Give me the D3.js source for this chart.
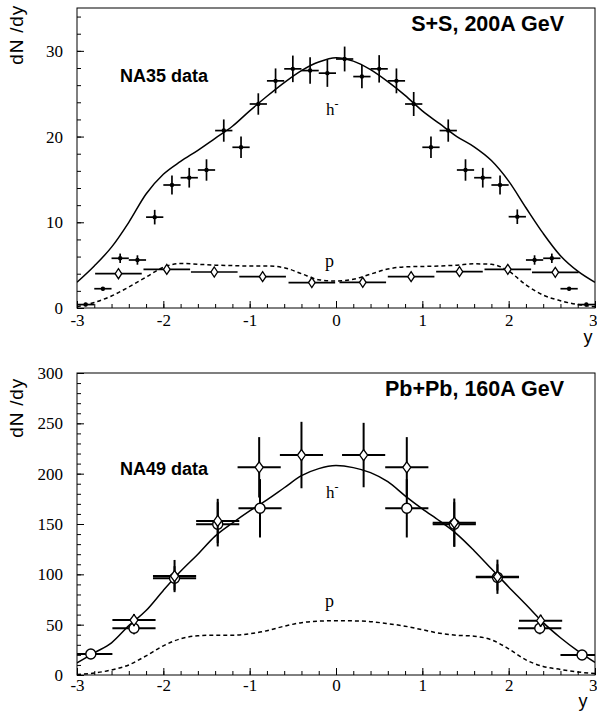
<!DOCTYPE html>
<head>
  <meta charset="utf-8">
  <title>dN/dy</title>
  <style>
  body { margin: 0; background: #fff; }
  .frame { fill: none; stroke: #000; stroke-width: 1; }
  .curve { fill: none; stroke: #000; stroke-width: 1.5; }
  .dashed { stroke-dasharray: 4,3; }
  .err { stroke: #000; }
  </style>
</head>
<body>
<svg id="vis" width="597" height="711"></svg>

<script src="https://cdn.jsdelivr.net/npm/d3@7"></script>
<script>
"use strict";

// rapidity grid for the model curves
var gridY = [-3, -2.8, -2.6, -2.4, -2.2, -2, -1.8, -1.6, -1.4, -1.2, -1, -0.8, -0.6, -0.4, -0.2, 0,
             0.2, 0.4, 0.6, 0.8, 1, 1.2, 1.4, 1.6, 1.8, 2, 2.2, 2.4, 2.6, 2.8, 3];
var xTicks = [-3, -2, -1, 0, 1, 2, 3];

// S+S panel
var ssYTicks = [0, 10, 20, 30];
var ssHmY = [-2.9, -2.7, -2.5, -2.3, -2.1, -1.9, -1.7, -1.5, -1.3, -1.1, -0.9, -0.7, -0.5, -0.3, -0.1,
             0.1, 0.3, 0.5, 0.7, 0.9, 1.1, 1.3, 1.5, 1.7, 1.9, 2.1, 2.3, 2.5, 2.7, 2.9];
var ssHmVal = [0.4, 2.25, 5.8, 5.6, 10.6, 14.35, 15.2, 16.1, 20.7, 18.75, 23.8, 26.5, 27.9, 27.7, 27.4,
               29.05, 27.0, 27.9, 26.5, 23.8, 18.75, 20.7, 16.1, 15.2, 14.35, 10.65, 5.6, 5.8, 2.25, 0.4];
var ssHmErr = [0.2, 0.2, 0.55, 0.55, 0.85, 1.1, 1.15, 1.25, 1.3, 1.25, 1.25, 1.45, 1.55, 1.55, 1.6,
               1.45, 1.35, 1.6, 1.45, 1.4, 1.25, 1.3, 1.25, 1.15, 1.1, 0.85, 0.55, 0.55, 0.2, 0.2];
var ssPY = [-2.52, -1.96, -1.41, -0.85, -0.28, 0.31, 0.87, 1.43, 1.99, 2.54];
var ssPVal = [4.0, 4.5, 4.2, 3.66, 2.97, 2.99, 3.66, 4.24, 4.51, 4.16];
var ssPErr = [0.35, 0.35, 0.35, 0.35, 0.35, 0.35, 0.35, 0.35, 0.35, 0.35];
var ssHmCurve = [3.0, 4.9, 7.1, 10.0, 13.3, 15.6, 17.1, 18.4, 19.8, 21.2, 23.0, 24.7, 26.3, 27.7, 28.7, 29.2,
                 28.8, 27.8, 26.4, 24.8, 23.0, 21.5, 20.0, 18.8, 17.2, 14.8, 11.7, 8.7, 6.1, 4.3, 3.0];
var ssPCurve = [0.15, 0.65, 1.4, 2.45, 3.6, 4.75, 5.2, 5.1, 5.0, 4.95, 4.9, 4.9, 4.7, 4.0, 3.3, 3.15,
                3.35, 3.95, 4.55, 4.8, 4.85, 4.9, 5.0, 5.15, 5.1, 4.3, 2.7, 1.5, 0.85, 0.4, 0.15];

// Pb+Pb panel
var pbYTicks = [0, 50, 100, 150, 200, 250, 300];
var pbCircY = [-2.84, -2.34, -1.87, -1.37, -0.88, 0.82, 1.37, 1.87, 2.36, 2.85];
var pbCircVal = [20.8, 46.4, 96.1, 149.7, 165.6, 165.6, 149.7, 97.0, 46.4, 19.9];
var pbCircErr = [5, 6, 12, 22, 29, 29, 22, 13, 6, 4];
var pbDiaY = [-2.34, -1.87, -1.37, -0.89, -0.40, 0.32, 0.82, 1.37, 1.87, 2.37];
var pbDiaVal = [54.6, 98.3, 153, 206.3, 218.5, 218.5, 206.3, 151.3, 97.6, 53.9];
var pbDiaErr = [6, 16, 22, 30, 33, 32, 30, 24, 17, 6];
var pbHmCurve = [12, 22, 32, 49, 64, 84, 103, 120, 138, 151, 163, 174, 186, 198, 205, 208,
                 206, 201, 192, 178, 165, 153, 140, 123.5, 105.5, 87.5, 70, 52, 37, 24, 12.5];
var pbPCurve = [0.5, 2, 5, 10, 19, 29, 36, 39, 39.5, 39.5, 41, 44, 48.5, 52, 53.5, 54,
                53.8, 53, 51, 48.5, 45, 41.5, 39.5, 38.5, 35, 26, 15, 8.5, 5.5, 3, 1.5];

var svg = d3.select("#vis");
var left = 77, right = 595;
var serif = "'Liberation Serif', 'Times New Roman', serif";
var sans = "'Liberation Sans', Arial, sans-serif";

function styleLabels(sel) {
  sel.selectAll("text")
      .style("font-family", serif)
      .style("font-size", "17px")
      .style("fill", "#000");
}

function drawPanel(p) {
  var x = d3.scaleLinear().domain([-3, 3]).range([left, right]);
  var y = d3.scaleLinear().domain([0, p.ymax]).range([p.bottom, p.top]);
  var g = svg.append("g");

  g.append("clipPath").attr("id", p.id + "clip")
    .append("rect")
      .attr("x", left).attr("y", p.top)
      .attr("width", right - left).attr("height", p.bottom - p.top);

  // minor ticks
  g.append("g")
      .attr("transform", "translate(" + left + ",0)")
      .call(d3.axisLeft(y).tickValues(d3.range(0, p.ymax + 1e-9, p.yminor))
        .tickSizeInner(-4).tickSizeOuter(0).tickFormat(""))
      .select(".domain").remove();
  g.append("g")
      .attr("transform", "translate(0," + p.bottom + ")")
      .call(d3.axisBottom(x).tickValues(d3.range(-3, 3.001, 0.2))
        .tickSizeInner(-4).tickSizeOuter(0).tickFormat(""))
      .select(".domain").remove();

  // major ticks with labels
  var ya = g.append("g")
      .attr("transform", "translate(" + left + ",0)")
      .call(d3.axisLeft(y).tickValues(p.yTicks)
        .tickSizeInner(-7).tickSizeOuter(0).tickPadding(14).tickFormat(function(d) { return String(d); }));
  ya.select(".domain").remove();
  styleLabels(ya);

  var xa = g.append("g")
      .attr("transform", "translate(0," + p.bottom + ")")
      .call(d3.axisBottom(x).tickValues(xTicks)
        .tickSizeInner(-7).tickSizeOuter(0).tickPadding(p.xpad).tickFormat(function(d) { return String(d); }));
  xa.select(".domain").remove();
  styleLabels(xa);
  // keep the last label inside the page
  xa.selectAll(".tick text").filter(function(d) { return d === 3; })
      .attr("text-anchor", "end").attr("x", 2);

  g.selectAll(".tick line").attr("stroke", "#000");

  g.append("rect").attr("class", "frame")
      .attr("x", left).attr("y", p.top)
      .attr("width", right - left).attr("height", p.bottom - p.top);

  var plot = g.append("g").attr("clip-path", "url(#" + p.id + "clip)");

  var line = d3.line()
      .x(function(d) { return x(d[0]); })
      .y(function(d) { return y(d[1]); })
      .curve(d3.curveMonotoneX);

  plot.append("path").attr("class", "curve")
      .attr("d", line(d3.zip(gridY, p.hmCurve)));
  plot.append("path").attr("class", "curve dashed")
      .attr("d", line(d3.zip(gridY, p.pCurve)));

  p.series.forEach(function(s) {
    var pts = s.ys.map(function(v, i) { return {y: v, v: s.vals[i], e: s.errs[i]}; });
    var grp = plot.append("g").selectAll("g").data(pts).enter().append("g");
    grp.append("line").attr("class", "err").attr("stroke-width", s.sw)
        .attr("x1", function(d) { return x(d.y - s.hw); })
        .attr("x2", function(d) { return x(d.y + s.hw); })
        .attr("y1", function(d) { return y(d.v); })
        .attr("y2", function(d) { return y(d.v); });
    grp.append("line").attr("class", "err").attr("stroke-width", s.sw)
        .attr("x1", function(d) { return x(d.y); })
        .attr("x2", function(d) { return x(d.y); })
        .attr("y1", function(d) { return y(d.v - d.e); })
        .attr("y2", function(d) { return y(d.v + d.e); });
    if (s.kind === "dot") {
      grp.append("circle").attr("r", 2.2).attr("fill", "#000")
          .attr("cx", function(d) { return x(d.y); })
          .attr("cy", function(d) { return y(d.v); });
    } else if (s.kind === "circle") {
      grp.append("circle").attr("r", 5).attr("fill", "#fff").attr("stroke", "#000").attr("stroke-width", 1.4)
          .attr("cx", function(d) { return x(d.y); })
          .attr("cy", function(d) { return y(d.v); });
    } else {
      grp.append("path").attr("fill", "#fff").attr("stroke", "#000").attr("stroke-width", 1.3)
          .attr("transform", function(d) { return "translate(" + x(d.y) + "," + y(d.v) + ")"; })
          .attr("d", "M0," + (-s.dh) + "L" + s.dw + ",0L0," + s.dh + "L" + (-s.dw) + ",0Z");
    }
  });

  // texts
  g.append("text")
      .attr("x", 564).attr("y", p.top + 23)
      .attr("text-anchor", "end")
      .style("font", "bold 21.5px " + sans)
      .text(p.title);
  g.append("text")
      .attr("x", 120).attr("y", p.dataY)
      .style("font", "bold 18px " + sans)
      .text(p.dataLabel);
  var h = g.append("text")
      .attr("x", 326).attr("y", p.hY)
      .style("font", "17px " + serif);
  h.append("tspan").text("h");
  h.append("tspan").attr("dy", -7).style("font-size", "12px").text("-");
  g.append("text")
      .attr("x", 325).attr("y", p.pY)
      .style("font", "18px " + serif)
      .text("p");
  g.append("text")
      .attr("transform", "translate(23," + p.labTop + ") rotate(-90)")
      .attr("text-anchor", "end")
      .style("font", "19px " + sans)
      .style("letter-spacing", "0.8px")
      .text("dN /dy");
  g.append("text")
      .attr("x", p.yLabX).attr("y", p.bottom + p.yLabOff)
      .attr("text-anchor", "middle")
      .style("font", "18px " + sans)
      .text("y");
}

drawPanel({
  id: "ss", top: 8, bottom: 308, ymax: 35, yminor: 2, yTicks: ssYTicks, xpad: 6, yLabOff: 35, yLabX: 588,
  hmCurve: ssHmCurve, pCurve: ssPCurve,
  series: [
    {kind: "dot", ys: ssHmY, vals: ssHmVal, errs: ssHmErr, hw: 0.1, sw: 1.7},
    {kind: "diamond", ys: ssPY, vals: ssPVal, errs: ssPErr, hw: 0.27, sw: 1.7, dw: 3.3, dh: 5}
  ],
  title: "S+S, 200A GeV", dataLabel: "NA35 data", dataY: 82, hY: 115, pY: 267, labTop: 5
});

drawPanel({
  id: "pb", top: 373, bottom: 675, ymax: 300, yminor: 10, yTicks: pbYTicks, xpad: 4, yLabOff: 32, yLabX: 583,
  hmCurve: pbHmCurve, pCurve: pbPCurve,
  series: [
    {kind: "circle", ys: pbCircY, vals: pbCircVal, errs: pbCircErr, hw: 0.25, sw: 2},
    {kind: "diamond", ys: pbDiaY, vals: pbDiaVal, errs: pbDiaErr, hw: 0.25, sw: 2, dw: 4, dh: 5.5}
  ],
  title: "Pb+Pb, 160A GeV", dataLabel: "NA49 data", dataY: 475, hY: 498, pY: 607, labTop: 378
});
</script>
</body>
